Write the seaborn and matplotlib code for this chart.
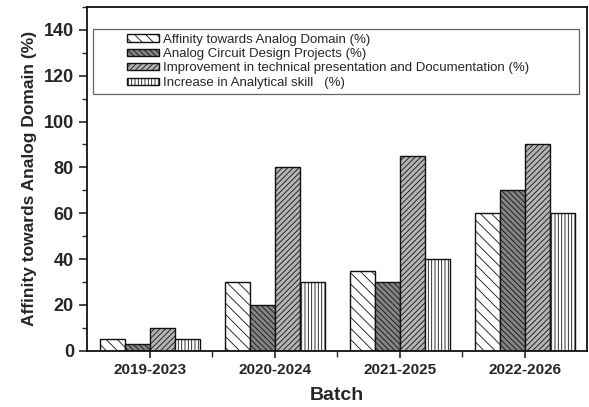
import matplotlib
matplotlib.use("Agg")
import matplotlib.pyplot as plt
import seaborn as sns
import pandas as pd
from matplotlib.ticker import MultipleLocator
from matplotlib.patches import Rectangle

batches = ["2019-2023", "2020-2024", "2021-2025", "2022-2026"]
series = [
    "Affinity towards Analog Domain (%)",
    "Analog Circuit Design Projects (%)",
    "Improvement in technical presentation and Documentation (%)",
    "Increase in Analytical skill   (%)",
]
affinity = [5, 30, 35, 60]
design_projects = [3, 20, 30, 70]
presentation = [10, 80, 85, 90]
analytical = [5, 30, 40, 60]

values = [affinity, design_projects, presentation, analytical]
df = pd.DataFrame(
    [(b, s, v) for s, vals in zip(series, values) for b, v in zip(batches, vals)],
    columns=["Batch", "Series", "Value"],
)

sns.set_theme(style="ticks")
plt.rcParams["font.family"] = ["Liberation Sans", "DejaVu Sans"]
plt.rcParams["hatch.linewidth"] = 0.6
plt.rcParams["hatch.color"] = "#222222"

fills = ["white", "#848484", "#b4b4b4", "white"]
hatches = ["\\\\\\", "\\\\\\\\\\\\", "//////", "|||||"]

fig, ax = plt.subplots(figsize=(5.89, 4.07), dpi=100)
sns.barplot(data=df, x="Batch", y="Value", hue="Series", hue_order=series,
            order=batches, palette=fills, edgecolor="#111111", linewidth=1.0,
            width=0.8, ax=ax, legend=True)

for container, h, c in zip(ax.containers, hatches, fills):
    for bar in container:
        bar.set_hatch(h)
        bar.set_facecolor(c)

handles, labels = ax.get_legend_handles_labels()
for hd, h, c in zip(handles, hatches, fills):
    hd.set_hatch(h)
    hd.set_facecolor(c)
    hd.set_edgecolor("#111111")
ax.legend(handles, labels, loc="upper left", bbox_to_anchor=(0.08, 0.922),
          fontsize=9.5, frameon=False, handlelength=2.4, handleheight=0.45,
          labelspacing=0.18, borderpad=0.0, handletextpad=0.3,
          borderaxespad=0.0)
# box around the key, spanning most of the plot width
ax.add_patch(Rectangle((0.012, 0.746), 0.972, 0.189, transform=ax.transAxes,
                       fill=False, edgecolor="#666666", linewidth=0.9,
                       zorder=5))

ax.set_xlim(-0.5, 3.5)
ax.set_ylim(0, 150)
ax.yaxis.set_minor_locator(MultipleLocator(10))
ax.set_yticks(range(0, 141, 20))
ax.set_xticks([0.5, 1.5, 2.5], minor=True)

ax.tick_params(axis="y", which="major", direction="out", length=6, width=1.2,
               labelsize=13)
ax.tick_params(axis="y", which="minor", direction="out", length=3.5, width=1.0)
ax.tick_params(axis="x", which="major", direction="inout", length=10, width=1.2,
               labelsize=11, pad=4)
ax.tick_params(axis="x", which="minor", direction="out", length=4, width=1.0)
for lbl in ax.get_yticklabels() + ax.get_xticklabels():
    lbl.set_fontweight("bold")

for sp in ax.spines.values():
    sp.set_visible(True)
    sp.set_linewidth(1.3)
    sp.set_color("#111111")

ax.set_xlabel("Batch", fontsize=14, fontweight="bold", labelpad=7)
ax.set_ylabel("Affinity towards Analog Domain (%)", fontsize=12.5,
              fontweight="bold", labelpad=5)

fig.subplots_adjust(left=0.148, right=0.997, top=0.983, bottom=0.138)
fig.savefig("out.png", dpi=100)
